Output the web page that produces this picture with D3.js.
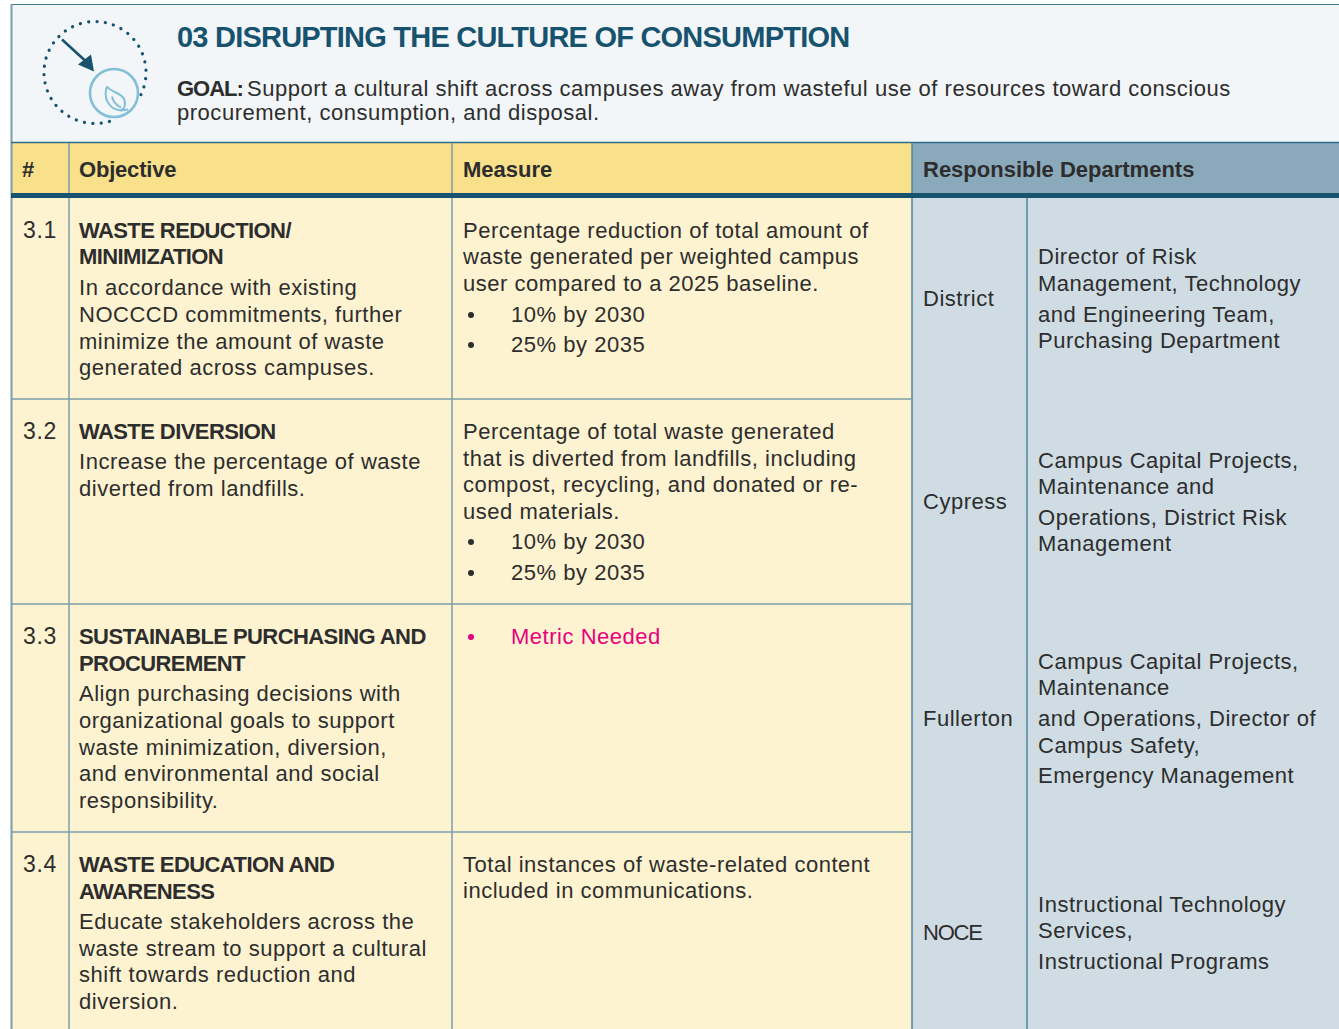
<!DOCTYPE html>
<html>
<head>
<meta charset="utf-8">
<script src="https://cdn.jsdelivr.net/npm/d3@7"></script>
<style>
  html, body { margin: 0; padding: 0; background: #fff; overflow: hidden; }
  text { font-family: "Liberation Sans", Arial, sans-serif; fill: #2d2d2d; }
</style>
</head>
<body>
<div id="chart"></div>
<script>
var headers = ["#", "Objective", "Measure", "Responsible Departments"];
var rowIds = ["3.1", "3.2", "3.3", "3.4"];
var titles = [
  ["WASTE REDUCTION/", "MINIMIZATION"],
  ["WASTE DIVERSION"],
  ["SUSTAINABLE PURCHASING AND", "PROCUREMENT"],
  ["WASTE EDUCATION AND", "AWARENESS"]
];
var objectives = [
  ["In accordance with existing", "NOCCCD commitments, further", "minimize the amount of waste", "generated across campuses."],
  ["Increase the percentage of waste", "diverted from landfills."],
  ["Align purchasing decisions with", "organizational goals to support", "waste minimization, diversion,", "and environmental and social", "responsibility."],
  ["Educate stakeholders across the", "waste stream to support a cultural", "shift towards reduction and", "diversion."]
];
var measures = [
  ["Percentage reduction of total amount of", "waste generated per weighted campus", "user compared to a 2025 baseline."],
  ["Percentage of total waste generated", "that is diverted from landfills, including", "compost, recycling, and donated or re-", "used materials."],
  [],
  ["Total instances of waste-related content", "included in communications."]
];
var bullets = [
  ["10% by 2030", "25% by 2035"],
  ["10% by 2030", "25% by 2035"],
  ["Metric Needed"],
  []
];
var campuses = ["District", "Cypress", "Fullerton", "NOCE"];
var departments = [
  ["Director of Risk", "Management, Technology", "and Engineering Team,", "Purchasing Department"],
  ["Campus Capital Projects,", "Maintenance and", "Operations, District Risk", "Management"],
  ["Campus Capital Projects,", "Maintenance", "and Operations, Director of", "Campus Safety,", "Emergency Management"],
  ["Instructional Technology", "Services,", "Instructional Programs"]
];
var goalLines = ["Support a cultural shift across campuses away from wasteful use of resources toward conscious", "procurement, consumption, and disposal."];

var width = 1339, height = 1029;
var colX = d3.scaleOrdinal().domain(["id", "objective", "measure", "campus", "dept", "end"]).range([11, 69, 452, 912, 1027, 1339]);
var rowY = d3.scaleOrdinal().domain([0, 1, 2, 3, 4]).range([198, 399, 604, 832, 1040]);

// baselines of the text lines, the source spacing is not regular
var objBase = [
  [238, 264, 295, 322, 349, 375],
  [439, 469, 496],
  [644, 671, 701, 728, 755, 781, 808],
  [872, 899, 929, 956, 982, 1009]
];
var measureBase = [
  [238, 264, 291, 322, 352],
  [439, 466, 492, 519, 549, 580],
  [644],
  [872, 898]
];
var campusBase = [306, 509, 726, 940];
var deptBase = [
  [264, 291, 322, 348],
  [468, 494, 525, 551],
  [669, 695, 726, 753, 783],
  [912, 938, 969]
];

var ink = "#2d2d2d", navy = "#17536f", rule = "#7a9eac", sky = "#83bfd6", pink = "#e6007e";
var bodySpacing = 0.52, capsSpacing = -0.58;

var svg = d3.select("#chart").append("svg")
  .attr("width", width).attr("height", height)
  .style("display", "block");

// bands
svg.append("rect").attr("x", 11).attr("y", 4).attr("width", width - 11).attr("height", 139).attr("fill", "#f2f6f8");
svg.append("rect").attr("x", 11).attr("y", 143).attr("width", colX("campus") - 11).attr("height", 50).attr("fill", "#f9e08a");
svg.append("rect").attr("x", colX("campus")).attr("y", 143).attr("width", width - colX("campus")).attr("height", 50).attr("fill", "#8aa9ba");
svg.append("rect").attr("x", 11).attr("y", 198).attr("width", colX("campus") - 11).attr("height", height - 198).attr("fill", "#fdf3d0");
svg.append("rect").attr("x", colX("campus")).attr("y", 198).attr("width", width - colX("campus")).attr("height", height - 198).attr("fill", "#cfdce3");

// rules
function line(x1, y1, x2, y2, color, w) {
  svg.append("line").attr("x1", x1).attr("y1", y1).attr("x2", x2).attr("y2", y2)
    .attr("stroke", color).attr("stroke-width", w);
}
line(11, 4.5, width, 4.5, "#3f7791", 1);
line(11.5, 4, 11.5, height, rule, 2);
line(11, 142.5, width, 142.5, "#2f6d8a", 1.5);
["objective", "measure"].forEach(function(c) {
  line(colX(c), 143, colX(c), height, rule, 1.5);
});
line(colX("campus"), 143, colX("campus"), height, "#4f86a0", 1.5);
line(colX("dept"), 198, colX("dept"), height, "#4f86a0", 1.5);
[1, 2, 3].forEach(function(i) {
  line(11, rowY(i), colX("campus"), rowY(i), rule, 1.5);
});
svg.append("rect").attr("x", 11).attr("y", 193).attr("width", width - 11).attr("height", 5).attr("fill", navy);

function label(x, y, s, size, weight, color, spacing) {
  return svg.append("text").attr("x", x).attr("y", y).text(s)
    .style("font-size", size + "px")
    .style("font-weight", weight || 400)
    .style("fill", color || ink)
    .style("letter-spacing", (spacing || 0) + "px");
}

// icon
var icon = svg.append("g").attr("transform", "translate(95,72.5)");
var ring = d3.path();
ring.arc(0, 0, 51, 0.45, 1.27, true);
icon.append("path")
  .attr("d", ring.toString())
  .attr("fill", "none").attr("stroke", navy).attr("stroke-width", 3.2)
  .attr("stroke-linecap", "round").attr("stroke-dasharray", "0.1 8.3");
icon.append("circle").attr("cx", 19).attr("cy", 20.5).attr("r", 24)
  .attr("fill", "none").attr("stroke", sky).attr("stroke-width", 2.6);
icon.append("line").attr("x1", -33).attr("y1", -33).attr("x2", -10).attr("y2", -12)
  .attr("stroke", navy).attr("stroke-width", 2.6);
icon.append("path").attr("d", "M-1,-1 L-17,-8 L-4,-18 Z").attr("fill", navy);
icon.append("path")
  .attr("d", "M12,14 C8,24 13,37 26,38 L33,37 M12,14 C17,21 30,20 30,31 C30,34 28,37 26,38 M17,24 C18,30 22,33 26,35")
  .attr("fill", "none").attr("stroke", sky).attr("stroke-width", 2);

// heading
label(177, 47, "03 DISRUPTING THE CULTURE OF CONSUMPTION", 29, 700, navy, -0.78);
label(177, 96, "GOAL:", 22, 700, ink, -1);
label(247, 96, goalLines[0], 22, 400, ink, bodySpacing);
label(177, 120, goalLines[1], 22, 400, ink, bodySpacing);

// header row
label(22, 177, headers[0], 22, 700);
label(79, 177, headers[1], 22, 700, ink, -0.2);
label(463, 177, headers[2], 22, 700);
label(923, 177, headers[3], 22, 700);

rowIds.forEach(function(id, i) {
  label(23, objBase[i][0], id, 23, 400, ink, 0.7);

  var ob = objBase[i];
  titles[i].forEach(function(s, j) { label(79, ob[j], s, 22, 700, ink, capsSpacing); });
  objectives[i].forEach(function(s, j) { label(79, ob[j + titles[i].length], s, 22, 400, ink, bodySpacing); });

  var mb = measureBase[i];
  measures[i].forEach(function(s, j) { label(463, mb[j], s, 22, 400, ink, bodySpacing); });
  var isTodo = bullets[i][0] === "Metric Needed";
  bullets[i].forEach(function(s, j) {
    var y = mb[j + measures[i].length];
    svg.append("circle").attr("cx", 471).attr("cy", y - 7).attr("r", 3)
      .attr("fill", isTodo ? pink : ink);
    label(511, y, s, 22, 400, isTodo ? pink : ink, bodySpacing);
  });

  label(923, campusBase[i], campuses[i], 22, 400, ink, campuses[i] === "NOCE" ? -1.2 : bodySpacing);
  departments[i].forEach(function(s, j) { label(1038, deptBase[i][j], s, 22, 400, ink, bodySpacing); });
});
</script>
</body>
</html>
